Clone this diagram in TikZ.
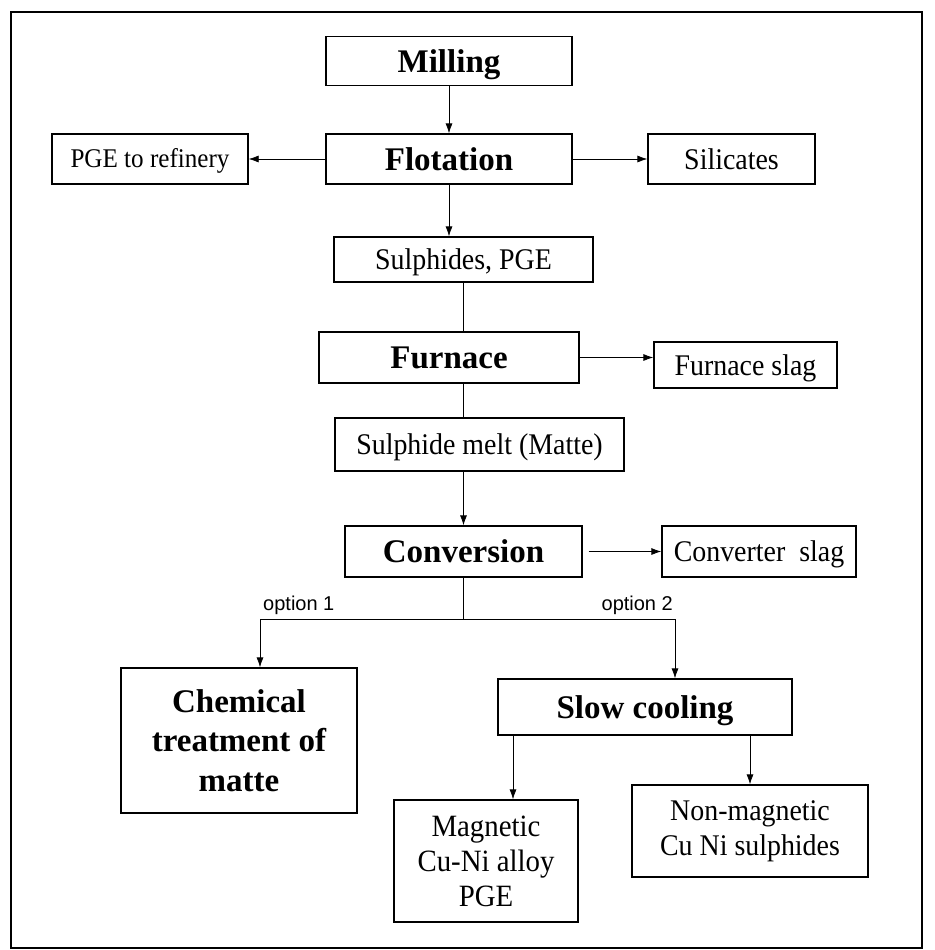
\documentclass[tikz,border=0pt]{standalone}
\usepackage{fontspec}
\setmainfont{Liberation Serif}[FakeStretch=0.93]
\newfontfamily\boldface{Liberation Serif}
\newfontfamily\optfont{Liberation Sans}
\usepackage{tikz}
\usetikzlibrary{arrows.meta}

\begin{document}
\begin{tikzpicture}[x=1pt,y=-1pt,
    box/.style={draw,line width=1.3pt,inner sep=0pt,align=center,font=\fontsize{30}{35}\selectfont},
    one/.style={text height=20pt,text depth=0pt},
    bbox/.style={box,font=\boldface\fontsize{33}{39.5}\selectfont\bfseries},
    bone/.style={text height=22pt,text depth=0pt},
    flow/.style={line width=0.8pt,-{Latex[length=10pt,width=7pt]}},
    link/.style={line width=0.8pt},
    opt/.style={font=\optfont\fontsize{20}{22}\selectfont,inner sep=0pt}]
            \useasboundingbox (0,0) rectangle (934,950);
            \draw[line width=2pt] (11,12) rectangle (922,948);
            \node[bbox,bone,minimum width=246,minimum height=49] (mill) at (449,61) {Milling};
            \node[bbox,bone,minimum width=246,minimum height=50] (flot) at (449,159) {Flotation};
            \node[box,text height=17pt,text depth=0pt,font=\fontsize{27}{30}\selectfont,minimum width=196,minimum height=50] (pge) at (150,159) {PGE to refinery};
            \node[box,one,minimum width=167,minimum height=50] (sil) at (731.5,159) {Silicates};
            \node[box,one,minimum width=259,minimum height=45] (sulph) at (463.5,259.5) {Sulphides, PGE};
            \node[bbox,bone,minimum width=260,minimum height=51] (furn) at (449,357.5) {Furnace};
            \node[box,one,minimum width=183,minimum height=46] (fslag) at (745.5,365) {Furnace slag};
            \node[box,one,minimum width=289,minimum height=53] (melt) at (479.5,444.5) {Sulphide melt (Matte)};
            \node[bbox,bone,minimum width=237,minimum height=51] (conv) at (463.5,551.5) {Conversion};
            \node[box,one,minimum width=194,minimum height=51] (cslag) at (759,551.5) {Converter~ slag};
            \node[bbox,minimum width=236,minimum height=145] (chem) at (239,740.5) {Chemical\\treatment of\\matte};
            \node[bbox,bone,minimum width=294,minimum height=56] (slow) at (645,707) {Slow cooling};
            \node[box,minimum width=184,minimum height=122,font=\fontsize{31}{35}\selectfont] (magn) at (486,861) {Magnetic\\Cu-Ni alloy\\PGE};
            \node[box,minimum width=236,minimum height=92] (nonm) at (750,831) {Non-magnetic\\Cu Ni sulphides};

            \coordinate (br) at (463.5,619);
            \coordinate (opl) at (260,619);
            \coordinate (opr) at (675,619);

            \draw[flow] (mill.south) -- (flot.north);
            \draw[flow] (flot.west) -- (pge.east);
            \draw[flow] (flot.east) -- (sil.west);
            \draw[flow] (flot.south) -- (flot.south |- sulph.north);
            \draw[link] (sulph.south) -- (sulph.south |- furn.north);
            \draw[flow] (furn.east) -- (furn.east -| fslag.west);
            \draw[link] (conv.north |- furn.south) -- (conv.north |- melt.north);
            \draw[flow] (conv.north |- melt.south) -- (conv.north);
            \draw[flow,shorten <=6pt] (conv.east) -- (cslag.west);
            \draw[link] (conv.south) -- (br);
            \draw[flow] (br) -- (opl) -- (opl |- chem.north);
            \draw[flow] (br) -- (opr) -- (opr |- slow.north);
            \node[opt,anchor=base west] (o1) at ([shift={(3,-9)}]opl) {option 1};
            \node[opt,anchor=base east] (o2) at ([shift={(-2,-9)}]opr) {option 2};
            \draw[flow] (slow.south -| 513,0) -- (magn.north -| 513,0);
            \draw[flow] (slow.south -| nonm.north) -- (nonm.north);
        \end{tikzpicture}
\end{document}
